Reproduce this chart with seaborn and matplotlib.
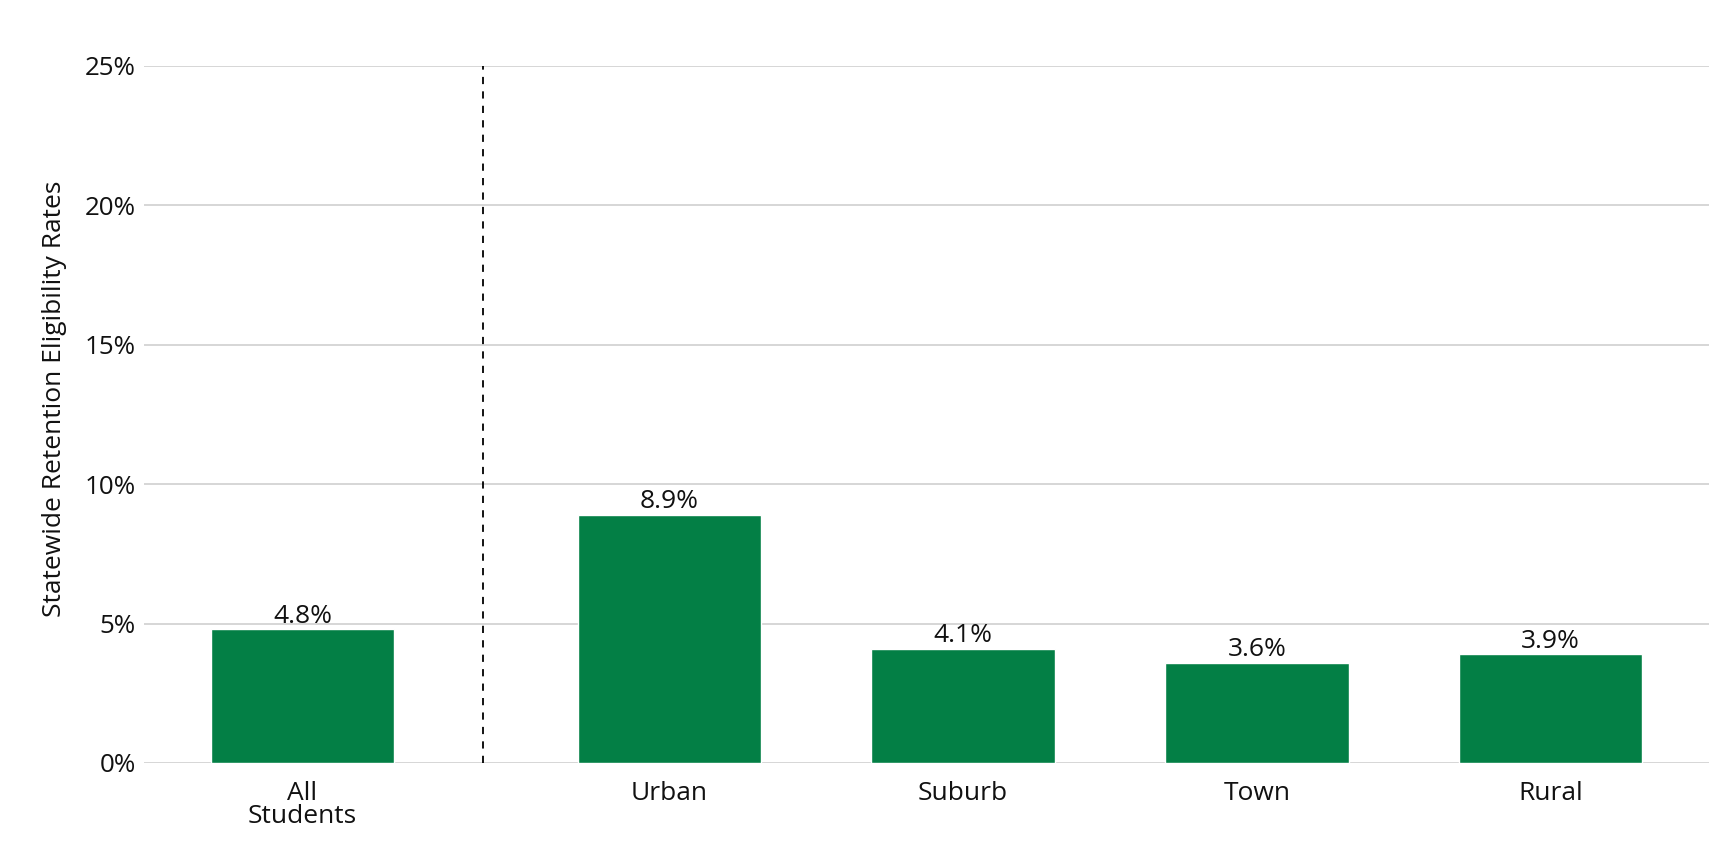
import pandas as pd
import numpy as np
import seaborn as sns
import matplotlib.pyplot as plt
from matplotlib.ticker import PercentFormatter

groups = ['All\nStudents', 'Urban', 'Suburb', 'Town', 'Rural']
positions = [0, 1.25, 2.25, 3.25, 4.25]
rates = [4.8, 8.9, 4.1, 3.6, 3.9]
yticks = [0, 5, 10, 15, 20, 25]

df = pd.DataFrame({'Group': groups, 'Pos': positions, 'Rate': rates})

sns.set_style('white')
plt.rcParams['font.family'] = ['Open Sans', 'DejaVu Sans']

fig = plt.figure(figsize=(17.34, 8.66), dpi=100)
ax = fig.add_axes([0.083, 0.119, 0.9026, 0.8048])

sns.barplot(data=df, x='Pos', y='Rate', native_scale=True, width=0.625,
            color='#037f45', saturation=1, ax=ax, zorder=3)

for p, v in zip(positions, rates):
    ax.text(p, v + 0.02, f'{v:.1f}%', ha='center', va='bottom', fontsize=19, color='#111111', zorder=4)

ax.axvline(0.614, ymin=0, ymax=1, color='black', linestyle=(0, (4, 4)), linewidth=1.3, zorder=2)

ax.set_ylim(0, 25)
ax.set_xlim(-0.54, 4.79)
ax.set_yticks(yticks)
ax.yaxis.set_major_formatter(PercentFormatter(decimals=0))
ax.set_xticks(positions)
ax.set_xticklabels(groups, linespacing=0.92)
ax.grid(axis='y', color='#cccccc', linewidth=1.1, zorder=0)
ax.grid(axis='x', visible=False)
for s in ax.spines.values():
    s.set_visible(False)
ax.tick_params(axis='x', length=0, pad=13, labelsize=19, labelcolor='#111111')
ax.tick_params(axis='y', length=0, pad=6, labelsize=18.7, labelcolor='#111111')
ax.set_xlabel('')
ax.set_ylabel('Statewide Retention Eligibility Rates', fontsize=19, color='#111111')
ax.yaxis.set_label_coords(-0.049, 0.522)

fig.savefig('out.png', dpi=100, facecolor='white')
